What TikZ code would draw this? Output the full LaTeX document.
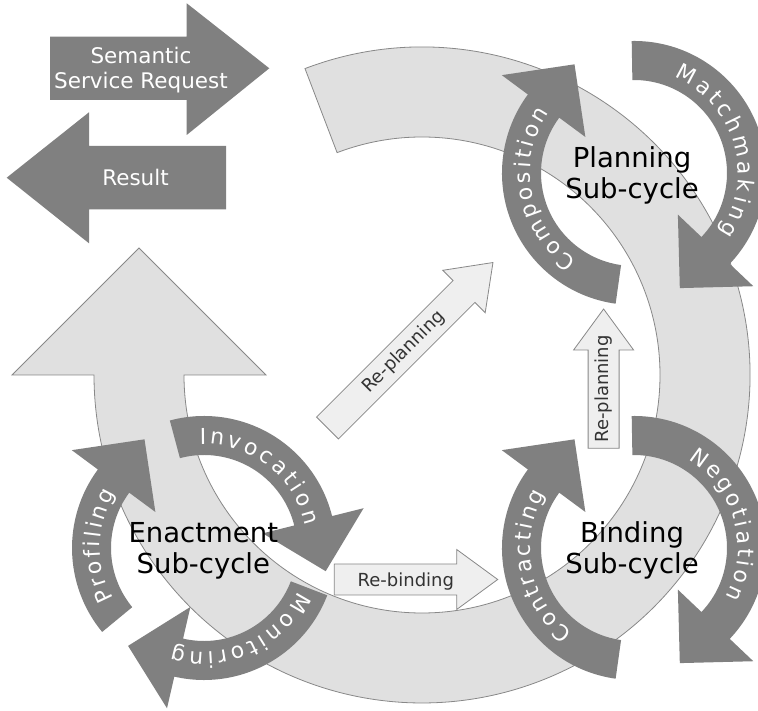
\documentclass[tikz,border=0pt]{standalone}
\usepackage{fontspec}
\setmainfont{DejaVu Sans}
\usetikzlibrary{decorations.text}

\definecolor{arrowdark}{HTML}{808080}
\definecolor{ringfill}{HTML}{E0E0E0}
\definecolor{ringline}{HTML}{888888}
\definecolor{lightfill}{HTML}{EFEFEF}
\definecolor{labelgray}{HTML}{333333}

% white, letter-spaced words that run along the dark ring arrows
\newcommand\bandfont{\color{white}\fontsize{22}{22}\selectfont}

% dark circular arrow around a sub-cycle centre, with its word on it
% #1 centre, #2 tail angle, #3 head base angle, #4/#5 word span, #6 word
\newcommand\cyclearrow[6]{%
  \fill[darkarrow, shift={(#1)}]
    (#2:132) arc[start angle=#2, end angle=#3, radius=132]
    -- (#3:164.5) -- ({#3-24.8}:123.9) -- (#3:60.5) -- (#3:93)
    arc[start angle=#3, end angle=#2, radius=93] -- cycle;
  \path[shift={(#1)}, decorate,
        decoration={text along path, text align=fit to path,
                    text={|\bandfont|#6}}]
    (#4:104) arc[start angle=#4, end angle=#5, radius=104];
}

% light straight arrow: #1 tail centre, #2 direction, #3 shaft length
\newcommand\flowarrow[3]{%
  \draw[lightarrow, shift={(#1)}, rotate=#2]
    (0,-15.5) -- (#3,-15.5) -- (#3,-30) -- ({#3+41},0)
    -- (#3,30) -- (#3,15.5) -- (0,15.5) -- cycle;
}

\begin{document}
\begin{tikzpicture}[x=1pt, y=1pt,
  ring/.style={fill=ringfill, draw=ringline, line width=0.8pt},
  darkarrow/.style={fill=arrowdark},
  lightarrow/.style={fill=lightfill, draw=ringline, line width=0.8pt},
  cyclelabel/.style={align=center, inner sep=0pt, text=black,
                     font=\fontsize{27.5}{31.6}\selectfont},
  flowlabel/.style={inner sep=0pt, text=labelgray,
                    font=\fontsize{18}{18}\selectfont},
  iolabel/.style={align=center, inner sep=0pt, text=white,
                  font=\fontsize{21.5}{24.7}\selectfont}]

\useasboundingbox (0,0) rectangle (758,711);

% centres of the big cycle and of the three sub-cycles
\coordinate (hub) at (422,336);
\coordinate (plan) at (634,538);
\coordinate (bind) at (634,163);
\coordinate (enact) at (204,163);

% big cycle: wide ring ending in an upward arrow head
\draw[ring, shift={(hub)}]
  (110.9:328) arc[start angle=110.9, end angle=-180, radius=328]
  -- ++(-82,0) -- ++(127,127) -- ++(127,-127) -- ++(-82,0)
  arc[start angle=-180, end angle=110.9, radius=238] -- cycle;

% request and result arrows
\fill[darkarrow] (50,674.3) -- (186.7,674.3) -- (186.7,707.7) -- (269.3,642.7)
  -- (186.7,576) -- (186.7,611) -- (50,611) -- cycle;
\fill[darkarrow] (226,565) -- (89,565) -- (89,598.7) -- (6.7,533.3)
  -- (89,467.7) -- (89,501.7) -- (226,501.7) -- cycle;
\node[iolabel] (request) at (141,640.8) {Semantic\\Service Request};
\node[iolabel] (result) at (135.5,534) {Result};

% re-planning and re-binding arrows
\flowarrow{327.5,283}{45}{193}
\flowarrow{603.6,262.7}{90}{98.3}
\flowarrow{334.3,131.5}{0}{122.4}
\node[flowlabel, rotate=45] (replanA) at (404,359) {Re-planning};
\node[flowlabel, rotate=90] (replanB) at (603.3,322) {Re-planning};
\node[flowlabel] (rebind) at (405.8,129) {Re-binding};

% planning sub-cycle
\cyclearrow{plan}{262}{143.5}{236.7}{144.6}{Composition}
\cyclearrow{plan}{91}{-43.5}{67.1}{-35}{Matchmaking}
% binding sub-cycle
\cyclearrow{bind}{262}{143.5}{233.7}{148.6}{Contracting}
\cyclearrow{bind}{91}{-43.5}{58.4}{-28.1}{Negotiation}
% enactment sub-cycle
\cyclearrow{enact}{219.5}{143.5}{209.2}{148.4}{Profiling}
\cyclearrow{enact}{105}{14}{92.3}{12.5}{Invocation}
\cyclearrow{enact}{-21}{-103}{-24.9}{-107.5}{Monitoring}

\node[cyclelabel] (planning) at (632,535.7) {Planning\\Sub-cycle};
\node[cyclelabel] (binding) at (632,160.7) {Binding\\Sub-cycle};
\node[cyclelabel] (enactment) at (203.3,160.3) {Enactment\\Sub-cycle};

\end{tikzpicture}
\end{document}
